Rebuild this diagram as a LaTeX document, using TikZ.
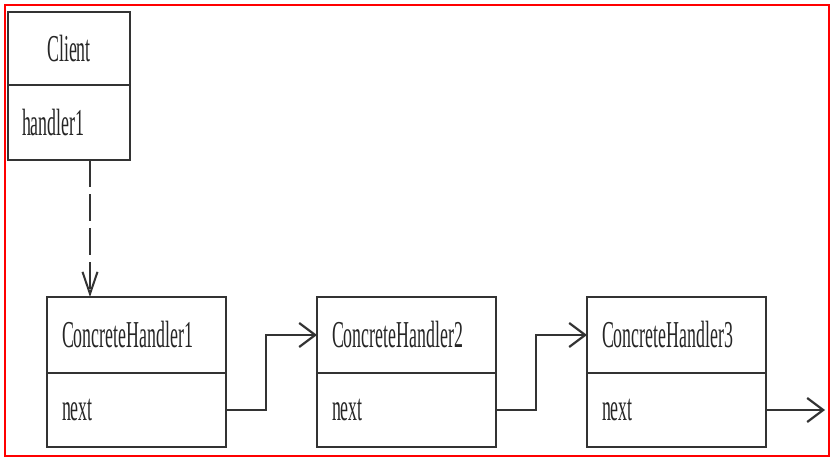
\documentclass[tikz,border=0pt]{standalone}
\usepackage{fontspec}
\newfontfamily\umlfont[FakeStretch=0.47]{Liberation Serif}
\usetikzlibrary{positioning,arrows.meta}

\begin{document}
\begin{tikzpicture}[x=1pt,y=1pt,
  every node/.style={font=\umlfont\fontsize{38}{40}\selectfont, text=black!85},
  umlbox/.style={draw=black!80, line width=2.5pt, rectangle, outer sep=0pt, align=left},
  clientbox/.style={umlbox, minimum width=122pt, text width=94pt, inner xsep=14pt},
  namebox/.style={umlbox, minimum width=179pt, text width=149pt, inner xsep=15pt, minimum height=76pt},
  fieldbox/.style={namebox, minimum height=74pt},
  link/.style={draw=black!80, line width=2.2pt, -{Straight Barb[length=16pt,width=24pt]}},
  uses/.style={draw=black!80, line width=2pt, dash pattern=on 27pt off 7pt, -{Straight Barb[length=22pt,width=15pt]}}]

% frame of the screenshot
\useasboundingbox (0,0) rectangle (836,-460);
\draw[red, line width=2pt] (5,-5) rectangle (829,-456);

% the client
\node[clientbox, align=center, minimum height=73pt, anchor=north west] (client) at (8,-12) {Client};
\node[clientbox, minimum height=75pt, below=0pt of client] (clientf) {handler1};

% the chain of handlers
\foreach \i in {1,2,3} {
    \node[namebox, anchor=north west] (h\i) at ({47+270*(\i-1)},-297) {ConcreteHandler\i};
    \node[fieldbox, below=0pt of h\i] (n\i) {next};
}

% links
\coordinate (dtop) at (90,-160);
\draw[uses] (dtop) -- (dtop |- h1.north);
\foreach \i/\j in {1/2,2/3} {
    \draw[link] (n\i.east) -- ++(40,0) |- (h\j.west);
}
\coordinate[right=59pt of n3.east] (out);
\draw[link] (n3.east) -- (out);

\end{tikzpicture}
\end{document}
